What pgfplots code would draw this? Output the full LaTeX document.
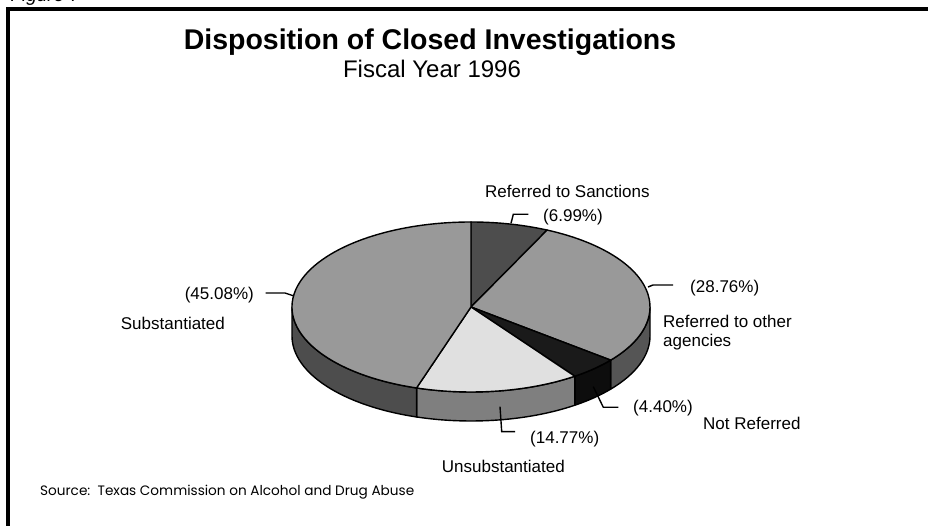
\documentclass[border=0pt]{standalone}
\usepackage{pgfplots}
\pgfplotsset{compat=1.18}
\usepackage{pgfplotstable}
\usepackage{fontspec}
\setmainfont{Liberation Sans}
\newfontfamily\srcfont{Poppins}
\definecolor{topA}{HTML}{4D4D4D}
\definecolor{topB}{HTML}{999999}
\definecolor{topC}{HTML}{1A1A1A}
\definecolor{topD}{HTML}{E0E0E0}
\definecolor{topE}{HTML}{999999}
\definecolor{sideB}{HTML}{555555}
\definecolor{sideC}{HTML}{0D0D0D}
\definecolor{sideD}{HTML}{7F7F7F}
\definecolor{sideE}{HTML}{4D4D4D}

% share of each slice, clockwise from 12 o'clock
\pgfplotstableread{
slice pct
Sanctions 6.99
OtherAgencies 28.76
NotReferred 4.40
Unsubstantiated 14.77
Substantiated 45.08
}\piedata

% cumulative boundary angles of the slices
\pgfplotstablegetelem{0}{pct}\of\piedata
\pgfmathsetmacro\angB{90-3.6*\pgfplotsretval}
\pgfplotstablegetelem{1}{pct}\of\piedata
\pgfmathsetmacro\angC{\angB-3.6*\pgfplotsretval}
\pgfplotstablegetelem{2}{pct}\of\piedata
\pgfmathsetmacro\angD{\angC-3.6*\pgfplotsretval}
\pgfplotstablegetelem{3}{pct}\of\piedata
\pgfmathsetmacro\angE{\angD-3.6*\pgfplotsretval}
\pgfplotstablegetelem{4}{pct}\of\piedata
\pgfmathsetmacro\angF{\angE-3.6*\pgfplotsretval}

\newcommand{\sideface}[3]{%
  \filldraw[fill=#1, draw=black, line width=1.4pt, line join=round]
   (axis cs:{471+179*cos(#2)},{219+85*sin(#2)})
   arc[start angle=#2, end angle=#3, x radius=179pt, y radius=85pt]
   -- ++(0pt,-29pt)
   arc[start angle=#3, end angle=#2, x radius=179pt, y radius=85pt] -- cycle;}
\newcommand{\topface}[3]{%
  \filldraw[fill=#1, draw=black, line width=1.4pt, line join=round]
   (axis cs:471,219) -- (axis cs:{471+179*cos(#2)},{219+85*sin(#2)})
   arc[start angle=#2, end angle=#3, x radius=179pt, y radius=85pt] -- cycle;}
\newcommand{\labfont}{\fontsize{17}{20}\selectfont}

\begin{document}
\begin{tikzpicture}[x=1pt,y=1pt]
\path[use as bounding box] (0,0) rectangle (928,526);
\clip (0,0) rectangle (928,526);
\begin{axis}[at={(0pt,0pt)}, anchor=south west, scale only axis,
  width=928pt, height=526pt, xmin=0, xmax=928, ymin=0, ymax=526,
  axis lines=none, clip=false]
% frame
\draw[line width=3.5pt] (axis cs:8,-20) -- (axis cs:8,517) -- (axis cs:950,517);
\node[anchor=base west, font=\fontsize{19}{22}\selectfont\itshape] at (axis cs:7,524.5) {Figure 7};
% titles
\node[anchor=base, font=\fontsize{28.5}{32}\selectfont\bfseries] at (axis cs:430,476) {Disposition of Closed Investigations};
\node[anchor=base, font=\fontsize{24}{28}\selectfont] at (axis cs:432,448) {Fiscal Year 1996};
% pie sides (visible front half)
\sideface{sideB}{0}{\angC}
\sideface{sideC}{\angC}{\angD}
\sideface{sideD}{\angD}{\angE}
\sideface{sideE}{\angE}{-180}
% pie top
\topface{topA}{90}{\angB}
\topface{topB}{\angB}{\angC}
\topface{topC}{\angC}{\angD}
\topface{topD}{\angD}{\angE}
\topface{topE}{\angE}{\angF}
% leader lines
\draw[line width=1.4pt] (axis cs:511,302.7) -- (axis cs:513.3,311.7) -- (axis cs:528.3,311.7);
\draw[line width=1.4pt] (axis cs:648,239) -- (axis cs:653,241) -- (axis cs:673,241);
\draw[line width=1.4pt] (axis cs:593.3,139.3) -- (axis cs:603.3,118.7) -- (axis cs:618.3,118.7);
\draw[line width=1.4pt] (axis cs:500,119.3) -- (axis cs:501.7,94.3) -- (axis cs:515,94.3);
\draw[line width=1.4pt] (axis cs:294,230) -- (axis cs:285,233) -- (axis cs:265.7,233);
% labels
\node[anchor=base west, font=\labfont, inner sep=0pt] at (axis cs:485,328) {Referred to Sanctions};
\node[anchor=base west, font=\labfont, inner sep=0pt] at (axis cs:543,304.5) {(6.99\%)};
\node[anchor=base west, font=\labfont, inner sep=0pt] at (axis cs:690,233) {(28.76\%)};
\node[anchor=base west, font=\labfont, inner sep=0pt] at (axis cs:663,198) {Referred to other};
\node[anchor=base west, font=\labfont, inner sep=0pt] at (axis cs:663,179.5) {agencies};
\node[anchor=base west, font=\labfont, inner sep=0pt] at (axis cs:633,113) {(4.40\%)};
\node[anchor=base west, font=\labfont, inner sep=0pt] at (axis cs:703,96) {Not Referred};
\node[anchor=base west, font=\labfont, inner sep=0pt] at (axis cs:530,82) {(14.77\%)};
\node[anchor=base west, font=\labfont, inner sep=0pt] at (axis cs:441.7,53) {Unsubstantiated};
\node[anchor=base west, font=\labfont, inner sep=0pt] at (axis cs:120.7,196) {Substantiated};
\node[anchor=base east, font=\labfont, inner sep=0pt] at (axis cs:254,226.5) {(45.08\%)};
% source
\node[anchor=base west, inner sep=0pt] at (axis cs:40,30) {\resizebox{374pt}{!}{\srcfont\fontsize{12}{14}\selectfont Source:\ \ Texas Commission on Alcohol and Drug Abuse}};
\end{axis}
\end{tikzpicture}
\end{document}
